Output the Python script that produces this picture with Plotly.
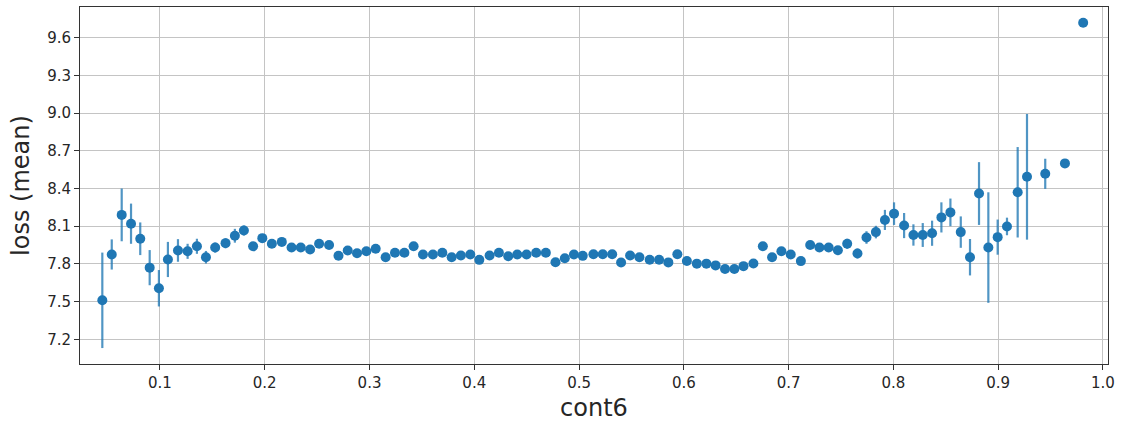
import plotly.graph_objects as go

cont6 = [0.0450, 0.0540, 0.0635, 0.0724, 0.0812, 0.0902, 0.0990, 0.1076, 0.1172, 0.1264,
         0.1353, 0.1439, 0.1527, 0.1626, 0.1715, 0.1801, 0.1889, 0.1977, 0.2068, 0.2163,
         0.2256, 0.2344, 0.2433, 0.2519, 0.2614, 0.2704, 0.2792, 0.2881, 0.2970, 0.3059,
         0.3154, 0.3243, 0.3333, 0.3421, 0.3510, 0.3605, 0.3695, 0.3784, 0.3872, 0.3962,
         0.4048, 0.4146, 0.4235, 0.4324, 0.4410, 0.4499, 0.4591, 0.4683, 0.4775, 0.4864,
         0.4951, 0.5035, 0.5137, 0.5226, 0.5316, 0.5401, 0.5487, 0.5576, 0.5674, 0.5764,
         0.5852, 0.5938, 0.6029, 0.6124, 0.6215, 0.6303, 0.6393, 0.6482, 0.6569, 0.6664,
         0.6754, 0.6842, 0.6931, 0.7020, 0.7117, 0.7206, 0.7294, 0.7382, 0.7470, 0.7559,
         0.7657, 0.7743, 0.7833, 0.7919, 0.8006, 0.8102, 0.8191, 0.8280, 0.8369, 0.8458,
         0.8544, 0.8643, 0.8731, 0.8817, 0.8906, 0.8995, 0.9084, 0.9186, 0.9275, 0.9449,
         0.9637, 0.9811]

loss_mean = [7.510, 7.875, 8.190, 8.120, 8.000, 7.770, 7.606, 7.835, 7.907, 7.900,
             7.940, 7.853, 7.930, 7.965, 8.024, 8.066, 7.940, 8.005, 7.960, 7.975,
             7.930, 7.930, 7.915, 7.960, 7.950, 7.865, 7.907, 7.885, 7.900, 7.920,
             7.853, 7.888, 7.888, 7.940, 7.875, 7.875, 7.888, 7.853, 7.867, 7.875,
             7.832, 7.867, 7.888, 7.861, 7.875, 7.875, 7.888, 7.888, 7.813, 7.845,
             7.875, 7.864, 7.877, 7.877, 7.877, 7.811, 7.867, 7.853, 7.833, 7.833,
             7.812, 7.877, 7.823, 7.802, 7.802, 7.788, 7.759, 7.759, 7.782, 7.803,
             7.940, 7.853, 7.900, 7.875, 7.822, 7.950, 7.930, 7.930, 7.909, 7.960,
             7.883, 8.010, 8.053, 8.150, 8.200, 8.105, 8.030, 8.030, 8.044, 8.170,
             8.210, 8.053, 7.853, 8.360, 7.930, 8.013, 8.098, 8.370, 8.493, 8.517,
             8.600, 9.720]

loss_err = [0.380, 0.120, 0.210, 0.160, 0.130, 0.140, 0.145, 0.140, 0.090, 0.060,
            0.060, 0.050, 0.040, 0.040, 0.055, 0.040, 0.030, 0.030, 0.030, 0.030,
            0.025, 0.025, 0.025, 0.030, 0.025, 0.020, 0.020, 0.020, 0.020, 0.020,
            0.020, 0.020, 0.020, 0.020, 0.020, 0.020, 0.020, 0.020, 0.020, 0.020,
            0.020, 0.020, 0.020, 0.020, 0.020, 0.020, 0.020, 0.020, 0.020, 0.020,
            0.020, 0.020, 0.020, 0.020, 0.020, 0.020, 0.020, 0.020, 0.020, 0.020,
            0.020, 0.020, 0.020, 0.020, 0.020, 0.020, 0.020, 0.020, 0.020, 0.025,
            0.025, 0.025, 0.025, 0.025, 0.025, 0.030, 0.030, 0.030, 0.030, 0.040,
            0.040, 0.050, 0.050, 0.080, 0.090, 0.100, 0.085, 0.095, 0.100, 0.120,
            0.110, 0.125, 0.145, 0.250, 0.440, 0.140, 0.070, 0.360, 0.500, 0.120,
            0.000, 0.000]

x_ticks = [0.1, 0.2, 0.3, 0.4, 0.5, 0.6, 0.7, 0.8, 0.9, 1.0]
x_tick_labels = ["0.1", "0.2", "0.3", "0.4", "0.5", "0.6", "0.7", "0.8", "0.9", "1.0"]
y_ticks = [7.2, 7.5, 7.8, 8.1, 8.4, 8.7, 9.0, 9.3, 9.6]
y_tick_labels = ["7.2", "7.5", "7.8", "8.1", "8.4", "8.7", "9.0", "9.3", "9.6"]

fig = go.Figure()
fig.add_trace(go.Scatter(
    x=cont6, y=loss_mean, mode="markers",
    marker=dict(color="#1f77b4", size=10, line=dict(width=0)),
    error_y=dict(type="data", array=loss_err, visible=True,
                 color="rgba(31,119,180,0.78)", thickness=2.2, width=0),
    showlegend=False,
))

axis_common = dict(
    showline=True, linecolor="#333333", linewidth=1, mirror=True,
    showgrid=True, gridcolor="#c4c4c4", gridwidth=1,
    ticks="outside", ticklen=5, tickcolor="#333333", tickwidth=1,
    tickfont=dict(family="DejaVu Sans", size=15, color="#262626"),
    zeroline=False,
)

fig.update_layout(
    width=1125, height=427,
    margin=dict(l=80, r=17, t=7, b=63),
    paper_bgcolor="white", plot_bgcolor="white",
    xaxis=dict(range=[0.0237, 1.0048], tickvals=x_ticks, ticktext=x_tick_labels,
               title=dict(text="cont6", font=dict(family="DejaVu Sans", size=24, color="#262626"),
                          standoff=8),
               **axis_common),
    yaxis=dict(range=[7.003, 9.845], tickvals=y_ticks, ticktext=y_tick_labels,
               title=dict(text="loss (mean)", font=dict(family="DejaVu Sans", size=24, color="#262626"),
                          standoff=10),
               **axis_common),
)

fig.write_html("out.html")
